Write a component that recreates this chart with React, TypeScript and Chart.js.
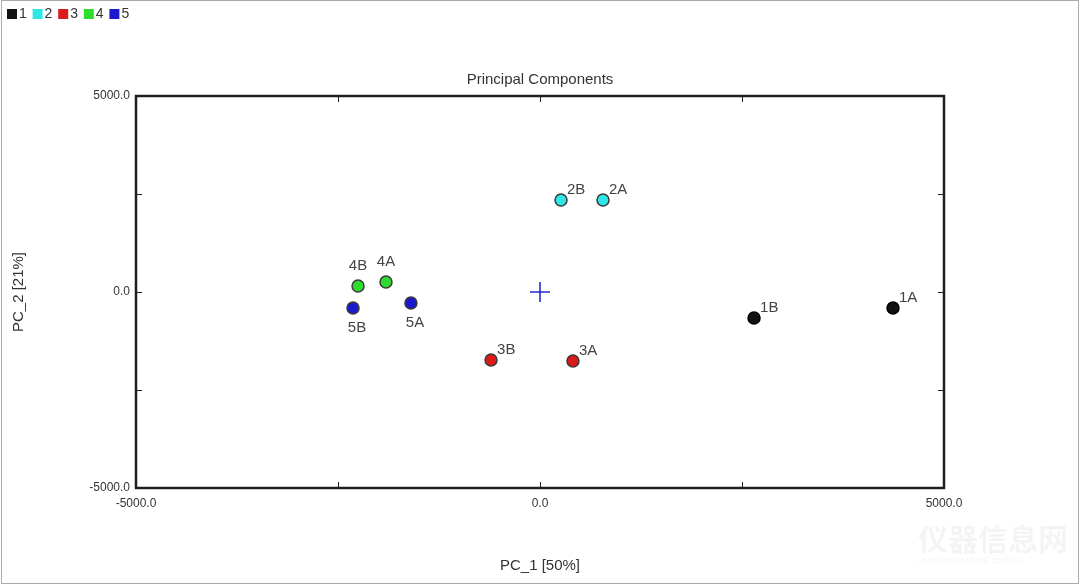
import React, { useEffect, useRef } from "react";
import { Chart, registerables } from "chart.js";

Chart.register(...registerables);

// ---- data ----
const GROUPS = ["1", "2", "3", "4", "5"];
const GROUP_COLORS = ["#111111", "#2ee6e6", "#dd1a1a", "#2edc2e", "#1a1acc"];
const SAMPLE_LABELS = ["1A", "1B", "2A", "2B", "3A", "3B", "4A", "4B", "5A", "5B"];
const SAMPLE_GROUP = [0, 0, 1, 1, 2, 2, 3, 3, 4, 4];
const PC1 = [4369, 2649, 780, 260, 408, -606, -1906, -2252, -1597, -2314];
const PC2 = [-408, -663, 2347, 2347, -1760, -1735, 255, 153, -281, -408];
const CENTER = [{ x: 0, y: 0 }];
const AXIS_MIN = -5000;
const AXIS_MAX = 5000;
const AXIS_STEP = 2500;
const LABEL_EVERY = 5000;
const TITLE = "Principal Components";
const X_TITLE = "PC_1 [50%]";
const Y_TITLE = "PC_2 [21%]";
// where each sample label sits relative to its point (default: upper right)
const LABEL_PLACEMENT: Record<string, string> = { "4A": "above", "4B": "above", "5A": "below", "5B": "below" };

const FONT = "'Liberation Sans', Arial, sans-serif";
const TEXT = "#333333";

const fmtTick = (v: number) => (Math.abs(v % LABEL_EVERY) < 1e-9 ? Number(v).toFixed(1) : "");

const decorPlugin = {
  id: "decor",
  beforeDraw(chart: any) {
    const { ctx, width, height } = chart;
    ctx.save();
    ctx.fillStyle = "#ffffff";
    ctx.fillRect(0, 0, width, height);
    // outer frame
    ctx.strokeStyle = "#a8a8a8";
    ctx.lineWidth = 1;
    ctx.strokeRect(1.5, 0.5, width - 3, height - 2);
    // watermark
    ctx.fillStyle = "rgba(0,0,0,0.045)";
    ctx.font = `bold 30px 'Noto Sans CJK SC', sans-serif`;
    ctx.textAlign = "left";
    ctx.textBaseline = "middle";
    ctx.fillText("仪器信息网", 918, 539);
    ctx.font = `10px ${FONT}`;
    ctx.fillText("www.instrument.com.cn", 918, 561);
    // legend
    ctx.font = `14px ${FONT}`;
    chart.data.datasets.forEach((ds: any, i: number) => {
      if (ds.hideLegend) return;
      const x = 7 + i * 25.6;
      ctx.fillStyle = ds.backgroundColor;
      ctx.fillRect(x, 9, 10, 10);
      ctx.fillStyle = TEXT;
      ctx.textBaseline = "middle";
      ctx.fillText(ds.label, x + 12, 14.5);
    });
    ctx.restore();
  },
  afterDatasetsDraw(chart: any) {
    const { ctx, chartArea: a, scales } = chart;
    ctx.save();
    // point labels
    ctx.font = `15px ${FONT}`;
    ctx.fillStyle = "#444444";
    chart.data.datasets.forEach((ds: any, di: number) => {
      if (ds.hideLegend) return;
      const meta = chart.getDatasetMeta(di);
      meta.data.forEach((el: any, i: number) => {
        const name = ds.data[i].name;
        const place = LABEL_PLACEMENT[name] || "ur";
        ctx.textBaseline = "middle";
        if (place === "above") {
          ctx.textAlign = "center";
          ctx.fillText(name, el.x, el.y - 20);
        } else if (place === "below") {
          ctx.textAlign = "center";
          ctx.fillText(name, el.x + 4, el.y + 20);
        } else {
          ctx.textAlign = "left";
          ctx.fillText(name, el.x + 6, el.y - 10);
        }
      });
    });
    // plot frame
    ctx.strokeStyle = "#1e1e1e";
    ctx.lineWidth = 2.5;
    ctx.strokeRect(a.left, a.top, a.right - a.left, a.bottom - a.top);
    // inward tick marks
    ctx.lineWidth = 1;
    const tl = 6;
    scales.x.ticks.forEach((t: any) => {
      const px = Math.round(scales.x.getPixelForValue(t.value)) + 0.5;
      ctx.beginPath();
      ctx.moveTo(px, a.bottom);
      ctx.lineTo(px, a.bottom - tl);
      ctx.moveTo(px, a.top);
      ctx.lineTo(px, a.top + tl);
      ctx.stroke();
    });
    scales.y.ticks.forEach((t: any) => {
      const py = Math.round(scales.y.getPixelForValue(t.value)) + 0.5;
      ctx.beginPath();
      ctx.moveTo(a.left, py);
      ctx.lineTo(a.left + tl, py);
      ctx.moveTo(a.right, py);
      ctx.lineTo(a.right - tl, py);
      ctx.stroke();
    });
    ctx.restore();
  },
};

export default function App() {
  const ref = useRef<HTMLCanvasElement | null>(null);

  useEffect(() => {
    if (!ref.current) return;
    const datasets: any[] = GROUPS.map((g, gi) => ({
      label: g,
      data: SAMPLE_LABELS.map((name, i) => ({ x: PC1[i], y: PC2[i], name, g: SAMPLE_GROUP[i] })).filter(
        (p) => p.g === gi
      ),
      backgroundColor: GROUP_COLORS[gi],
      borderColor: gi === 0 ? "#000000" : "#3a3a3a",
      borderWidth: 1.5,
      pointRadius: 6,
      pointHoverRadius: 6,
    }));
    datasets.push({
      label: "center",
      hideLegend: true,
      data: CENTER,
      pointStyle: "cross",
      pointRadius: 10,
      pointHoverRadius: 10,
      borderColor: "#2a2acc",
      backgroundColor: "#2a2acc",
      borderWidth: 1.6,
    });

    const axisCommon = (title: string, pad: number) => ({
      type: "linear" as const,
      min: AXIS_MIN,
      max: AXIS_MAX,
      ticks: {
        stepSize: AXIS_STEP,
        autoSkip: false,
        maxRotation: 0,
        padding: pad,
        color: TEXT,
        font: { family: FONT, size: 12 },
        callback: (v: any) => fmtTick(Number(v)),
      },
      grid: { display: false, drawTicks: false },
      border: { display: false },
      title: {
        display: true,
        text: title,
        color: TEXT,
        padding: 0,
        font: { family: FONT, size: 15, lineHeight: 1.2 },
      },
    });

    const chart = new Chart(ref.current, {
      type: "scatter",
      data: { datasets },
      plugins: [decorPlugin],
      options: {
        animation: false,
        responsive: false,
        devicePixelRatio: 1,
        layout: { padding: { left: 10, right: 10, top: 0, bottom: 10 } },
        plugins: {
          legend: { display: false },
          tooltip: { enabled: false },
          title: {
            display: true,
            text: TITLE,
            color: TEXT,
            font: { family: FONT, size: 15, weight: "normal", lineHeight: 1.2 },
            padding: { top: 71, bottom: 7 },
          },
        },
        scales: {
          x: {
            ...axisCommon(X_TITLE, 8),
            position: "bottom",
            afterFit: (s: any) => {
              s.height = 87;
            },
          },
          y: {
            ...axisCommon(Y_TITLE, 6),
            position: "left",
            afterFit: (s: any) => {
              s.width = 126;
            },
          },
          yRight: {
            type: "linear",
            position: "right",
            min: AXIS_MIN,
            max: AXIS_MAX,
            ticks: { display: false },
            grid: { display: false, drawTicks: false },
            border: { display: false },
            title: { display: false },
            afterFit: (s: any) => {
              s.width = 126;
            },
          },
        },
      } as any,
    });
    return () => chart.destroy();
  }, []);

  return (
    <div style={{ position: "absolute", left: 0, top: 0, width: 1080, height: 585 }}>
      <canvas ref={ref} width={1080} height={585} style={{ display: "block", width: 1080, height: 585 }} />
    </div>
  );
}
